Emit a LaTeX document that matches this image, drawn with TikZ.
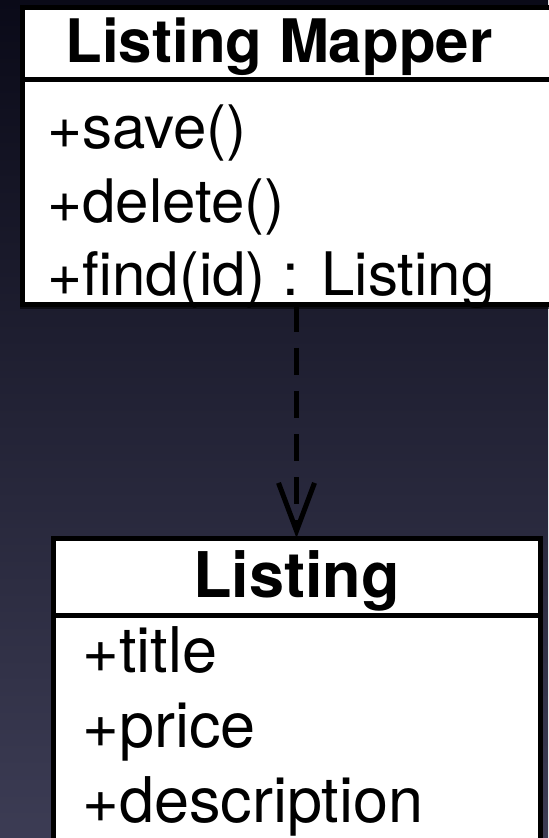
\documentclass[tikz,border=0pt]{standalone}
\usepackage{fontspec}
\setmainfont{TeX Gyre Heros}
\usetikzlibrary{arrows.meta,shadows}

\definecolor{bgtop}{RGB}{10,10,24}
\definecolor{bgmid}{RGB}{36,36,60}
\definecolor{bgbot}{RGB}{60,60,84}

\tikzset{
  classbox/.style={draw,fill=white,line width=2.5pt,inner sep=0pt,outer sep=0pt,
    anchor=north west,drop shadow={fill=black,opacity=0.6,shadow xshift=-1pt,shadow yshift=-2pt}},
  classname/.style={anchor=base,inner sep=0pt,font=\bfseries\fontsize{#1}{36}\selectfont},
  member/.style={anchor=base west,inner sep=0pt,font=\fontsize{#1}{36}\selectfont},
  dependency/.style={line width=2.5pt,dash pattern=on 13.5pt off 8pt,
    -{Straight Barb[length=24pt,width=18pt]}}
}

\begin{document}
\begin{tikzpicture}[x=0.5pt,y=-0.5pt]
  \useasboundingbox (0,0) rectangle (548,838);
  \shade[top color=bgtop,middle color=bgmid,bottom color=bgbot] (0,0) rectangle (548,838);

  % class boxes
  \path
  (22,8)   node[classbox,minimum width=274pt,minimum height=148.5pt](mapper)  {}
  (53,538) node[classbox,minimum width=243.5pt,minimum height=169pt](listing) {}
  ;

  \draw[line width=2.5pt] (mapper.west |- 0,80)   -- (mapper.east |- 0,80);
  \draw[line width=2.5pt] (listing.west |- 0,615) -- (listing.east |- 0,615);

  \path
  (279,63)   node[classname=30](mappername)  {Listing Mapper}
  (47,149)   node[member=30](m1)  {+save()}
  (47,223)   node[member=30](m2)  {+delete()}
  (47,296)   node[member=30](m3)  {+find(id) : Listing}

  (296.5,597) node[classname=31.5](listingname) {Listing}
  (82,672)   node[member=31.5](a1) {+title}
  (82,747)   node[member=31.5](a2) {+price}
  (82,822)   node[member=31.5](a3) {+description}
  ;

  \draw[dependency] (mapper.south -| listing.north) -- (listing.north);

\end{tikzpicture}
\end{document}
